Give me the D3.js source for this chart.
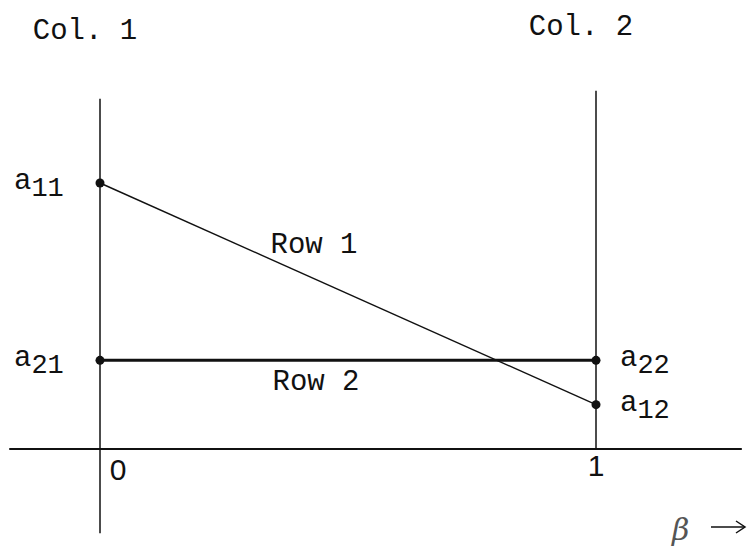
<!DOCTYPE html>
<html>
<head>
<meta charset="utf-8">
<script src="https://cdn.jsdelivr.net/npm/d3@7"></script>
<style>
  html, body { margin: 0; padding: 0; background: #fff; }
  svg { display: block; }
  text { font-family: "Liberation Mono", "DejaVu Sans Mono", monospace; fill: #111; }
</style>
</head>
<body>
<svg id="chart" width="748" height="550"></svg>
<script>
// Payoffs of the 2x2 game: rows are the player's pure strategies,
// columns are the opponent's; beta is the weight on column 2.
const columns = ["Col. 1", "Col. 2"];
const rows = ["Row 1", "Row 2"];
const betaTicks = [0, 1];
const row1Payoffs = [6, 1];   // a11, a12
const row2Payoffs = [2, 2];   // a21, a22
const payoffNames = [["11", "12"], ["21", "22"]];

const svg = d3.select("#chart");

const x = d3.scaleLinear().domain([0, 1]).range([100, 596]);
const y = d3.scaleLinear().domain([0, 6]).range([449, 183]);

const ink = "#111";

// Horizontal beta axis
svg.append("line")
  .attr("x1", x(-0.183)).attr("x2", x(1.294))
  .attr("y1", y(0)).attr("y2", y(0))
  .attr("stroke", ink).attr("stroke-width", 2);

// Vertical axes at beta = 0 and beta = 1
svg.append("line")
  .attr("x1", x(0)).attr("x2", x(0))
  .attr("y1", y(7.9)).attr("y2", y(-1.9))
  .attr("stroke", ink).attr("stroke-width", 1.5);
svg.append("line")
  .attr("x1", x(1)).attr("x2", x(1))
  .attr("y1", y(8.08)).attr("y2", y(0))
  .attr("stroke", ink).attr("stroke-width", 1.5);

// Expected payoff lines for each row strategy
const line = d3.line().x((d, i) => x(betaTicks[i])).y(d => y(d));
svg.append("path").datum(row1Payoffs)
  .attr("d", line).attr("fill", "none")
  .attr("stroke", ink).attr("stroke-width", 1.4);
svg.append("path").datum(row2Payoffs)
  .attr("d", line).attr("fill", "none")
  .attr("stroke", ink).attr("stroke-width", 3);

// Endpoint dots
const pts = [];
[row1Payoffs, row2Payoffs].forEach((vals, r) =>
  vals.forEach((v, c) => pts.push({ r, c, v, name: payoffNames[r][c] })));
svg.selectAll("circle.pt").data(pts).enter().append("circle")
  .attr("class", "pt")
  .attr("cx", d => x(betaTicks[d.c]))
  .attr("cy", d => y(d.v))
  .attr("r", 4.5)
  .attr("fill", ink);

// Payoff labels a_ij with subscripts
const labelFont = 29;
svg.selectAll("text.pay").data(pts).enter().append("text")
  .attr("class", "pay")
  .attr("x", d => d.c === 0 ? 14 : 620)
  .attr("y", d => y(d.v) + 6)
  .attr("font-size", labelFont)
  .each(function (d) {
    const t = d3.select(this);
    t.append("tspan").text("a");
    t.append("tspan").attr("dx", 0).attr("dy", 7).attr("font-size", 27)
      .text(d.name);
  });

// Column headings
svg.selectAll("text.col").data(columns).enter().append("text")
  .attr("class", "col")
  .attr("x", (d, i) => x(betaTicks[i]) - 15)
  .attr("y", (d, i) => i === 0 ? 39 : 35)
  .attr("text-anchor", "middle")
  .attr("font-size", 29)
  .text(d => d);

// Row line labels
svg.append("text").attr("x", 314).attr("y", 253)
  .attr("text-anchor", "middle").attr("font-size", 29).text(rows[0]);
svg.append("text").attr("x", 316).attr("y", 390)
  .attr("text-anchor", "middle").attr("font-size", 29).text(rows[1]);

// Beta tick labels
svg.selectAll("text.tick").data(betaTicks).enter().append("text")
  .attr("class", "tick")
  .attr("x", d => d === 0 ? x(d) + 18 : x(d))
  .attr("y", d => d === 0 ? 480 : 476)
  .attr("text-anchor", "middle")
  .style("font-family", "'Liberation Sans', Arial, sans-serif")
  .style("font-size", "30px")
  .text(d => d);

// Hand-lettered beta with arrow
svg.append("text").attr("x", 672).attr("y", 540)
  .style("font-family", "'DejaVu Serif', serif").attr("font-style", "italic")
  .attr("font-size", 30).style("fill", "#555").text("β");
svg.append("line")
  .attr("x1", 711).attr("x2", 744).attr("y1", 527).attr("y2", 527)
  .attr("stroke", ink).attr("stroke-width", 1.5);
svg.append("path")
  .attr("d", "M736,521 L745,527 L736,533")
  .attr("fill", "none").attr("stroke", ink).attr("stroke-width", 1.5);
</script>
</body>
</html>
